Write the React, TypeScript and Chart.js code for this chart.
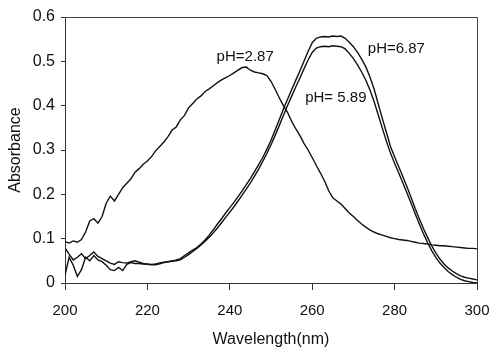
import React, { useEffect, useRef } from "react";
import { Chart, registerables } from "chart.js";

Chart.register(...registerables);

const wavelengths: number[] = [
  200, 201, 202, 203, 204, 205, 206, 207, 208, 209,
  210, 211, 212, 213, 214, 215, 216, 217, 218, 219,
  220, 221, 222, 223, 224, 225, 226, 227, 228, 229,
  230, 231, 232, 233, 234, 235, 236, 237, 238, 239,
  240, 241, 242, 243, 244, 245, 246, 247, 248, 249,
  250, 251, 252, 253, 254, 255, 256, 257, 258, 259,
  260, 261, 262, 263, 264, 265, 266, 267, 268, 269,
  270, 271, 272, 273, 274, 275, 276, 277, 278, 279,
  280, 281, 282, 283, 284, 285, 286, 287, 288, 289,
  290, 291, 292, 293, 294, 295, 296, 297, 298, 299,
  300,
];

const ph287: number[] = [
  0.093, 0.090, 0.095, 0.092, 0.098, 0.115, 0.140, 0.145, 0.135, 0.150,
  0.180, 0.196, 0.185, 0.200, 0.215, 0.225, 0.235, 0.250, 0.258, 0.268,
  0.275, 0.285, 0.298, 0.308, 0.318, 0.330, 0.345, 0.352, 0.368, 0.378,
  0.395, 0.405, 0.415, 0.422, 0.432, 0.438, 0.445, 0.452, 0.458, 0.463,
  0.468, 0.474, 0.480, 0.486, 0.487, 0.480, 0.476, 0.474, 0.472, 0.468,
  0.455, 0.437, 0.418, 0.400, 0.385, 0.365, 0.348, 0.333, 0.315, 0.300,
  0.283, 0.265, 0.248, 0.230, 0.208, 0.192, 0.185, 0.178, 0.168, 0.158,
  0.150, 0.141, 0.133, 0.126, 0.120, 0.115, 0.111, 0.108, 0.105, 0.102,
  0.100, 0.098, 0.097, 0.096, 0.094, 0.092, 0.090, 0.089, 0.088, 0.086,
  0.085, 0.084, 0.084, 0.083, 0.082, 0.081, 0.080, 0.079, 0.078, 0.078,
  0.077,
];

const ph687: number[] = [
  0.079, 0.065, 0.052, 0.058, 0.066, 0.055, 0.062, 0.070, 0.060, 0.055,
  0.050, 0.045, 0.042, 0.048, 0.046, 0.045, 0.048, 0.050, 0.047, 0.044,
  0.043, 0.042, 0.043, 0.045, 0.047, 0.048, 0.050, 0.052, 0.055, 0.062,
  0.068, 0.074, 0.080, 0.088, 0.097, 0.108, 0.120, 0.133, 0.145, 0.158,
  0.170, 0.182, 0.195, 0.208, 0.222, 0.236, 0.251, 0.267, 0.283, 0.302,
  0.322, 0.345, 0.368, 0.392, 0.414, 0.436, 0.457, 0.478, 0.500, 0.522,
  0.542, 0.552, 0.555, 0.556, 0.555, 0.557, 0.556, 0.557, 0.552, 0.543,
  0.533, 0.520, 0.505, 0.488, 0.465, 0.438, 0.405, 0.372, 0.340, 0.308,
  0.285, 0.262, 0.240, 0.217, 0.193, 0.168, 0.145, 0.123, 0.103, 0.084,
  0.068, 0.054, 0.043, 0.034, 0.027, 0.021, 0.016, 0.013, 0.011, 0.009,
  0.007,
];

const ph589: number[] = [
  0.018, 0.058, 0.040, 0.015, 0.030, 0.058, 0.050, 0.062, 0.052, 0.048,
  0.040, 0.030, 0.028, 0.035, 0.028, 0.042, 0.046, 0.044, 0.044, 0.043,
  0.042, 0.041, 0.041, 0.043, 0.046, 0.048, 0.049, 0.050, 0.052, 0.058,
  0.064, 0.071, 0.078, 0.086, 0.094, 0.103, 0.113, 0.124, 0.136, 0.148,
  0.160, 0.172, 0.185, 0.198, 0.212, 0.226, 0.241, 0.257, 0.274, 0.292,
  0.312, 0.333, 0.355, 0.378, 0.400, 0.421, 0.442, 0.462, 0.483, 0.503,
  0.520, 0.530, 0.533, 0.534, 0.533, 0.535, 0.534, 0.533, 0.528, 0.518,
  0.506, 0.492, 0.476, 0.458, 0.436, 0.410, 0.380, 0.350, 0.320, 0.293,
  0.270, 0.248, 0.226, 0.203, 0.180, 0.156, 0.133, 0.111, 0.091, 0.073,
  0.058, 0.045, 0.035, 0.026, 0.019, 0.013, 0.008, 0.005, 0.003, 0.001,
  0.000,
];

const seriesNames: string[] = ["pH=2.87", "pH=6.87", "pH= 5.89"];
const labelX: number[] = [236.8, 273.5, 258.3];
const labelY: number[] = [0.51, 0.528, 0.418];

const xTicks: number[] = [200, 220, 240, 260, 280, 300];
const yTickLabels: string[] = ["0", "0.1", "0.2", "0.3", "0.4", "0.5", "0.6"];

const FONT = "'Liberation Sans', Arial, sans-serif";

const framePlugin = {
  id: "frameAndLabels",
  afterDraw(chart: any) {
    const { ctx, chartArea, scales } = chart;
    ctx.save();
    ctx.strokeStyle = "#444";
    ctx.lineWidth = 1;
    ctx.beginPath();
    ctx.moveTo(chartArea.left, chartArea.top + 0.5);
    ctx.lineTo(chartArea.right + 0.5, chartArea.top + 0.5);
    ctx.lineTo(chartArea.right + 0.5, chartArea.bottom);
    ctx.stroke();
    ctx.fillStyle = "#111";
    ctx.font = `15px ${FONT}`;
    ctx.textBaseline = "middle";
    ctx.textAlign = "left";
    seriesNames.forEach((name, i) => {
      ctx.fillText(name, scales.x.getPixelForValue(labelX[i]), scales.y.getPixelForValue(labelY[i]));
    });
    ctx.restore();
  },
};

export default function App() {
  const ref = useRef<HTMLCanvasElement>(null);
  useEffect(() => {
    if (!ref.current) return;
    const mk = (ys: number[]) => wavelengths.map((x, i) => ({ x, y: ys[i] }));
    const chart = new Chart(ref.current, {
      type: "line",
      data: {
        datasets: [
          { label: seriesNames[0], data: mk(ph287) },
          { label: seriesNames[1], data: mk(ph687) },
          { label: seriesNames[2], data: mk(ph589) },
        ].map((d) => ({
          ...d,
          borderColor: "#111",
          borderWidth: 1.4,
          pointRadius: 0,
          tension: 0,
          fill: false,
        })),
      },
      options: {
        animation: false,
        responsive: false,
        layout: { padding: { left: 0, right: 14, top: 17, bottom: 0 } },
        plugins: { legend: { display: false }, tooltip: { enabled: false } },
        scales: {
          x: {
            type: "linear",
            min: 200,
            max: 300,
            afterFit: (s: any) => {
              s.height = 66;
              s.paddingLeft = 0;
              s.paddingRight = 0;
            },
            afterBuildTicks: (s: any) => {
              s.ticks = xTicks.map((v) => ({ value: v }));
            },
            grid: { display: true, drawOnChartArea: false, drawTicks: true, tickLength: 7, color: "#333" },
            border: { display: true, color: "#333", width: 1 },
            ticks: {
              color: "#111",
              padding: 12,
              font: { family: FONT, size: 15 },
              callback: (v: any) => String(v),
            },
            title: {
              display: true,
              text: "Wavelength(nm)",
              color: "#111",
              font: { family: FONT, size: 16 },
              padding: { top: 0, bottom: 0 },
            },
          },
          y: {
            type: "linear",
            min: 0,
            max: 0.6,
            afterFit: (s: any) => {
              s.width = 65;
              s.paddingTop = 0;
              s.paddingBottom = 0;
            },
            ticks: {
              stepSize: 0.1,
              color: "#111",
              padding: 6,
              font: { family: FONT, size: 16 },
              callback: (v: any) => yTickLabels[Math.round(Number(v) * 10)] ?? "",
            },
            grid: { display: true, drawOnChartArea: false, drawTicks: true, tickLength: 4, color: "#333" },
            border: { display: true, color: "#333", width: 1 },
            title: {
              display: true,
              text: "Absorbance",
              color: "#111",
              font: { family: FONT, size: 16 },
              padding: { top: 6, bottom: 0 },
            },
          },
        },
      },
      plugins: [framePlugin],
    } as any);
    return () => chart.destroy();
  }, []);
  return (
    <div style={{ position: "fixed", left: 0, top: 0, width: 491, height: 349, background: "#fff" }}>
      <canvas ref={ref} width={491} height={349} />
    </div>
  );
}
